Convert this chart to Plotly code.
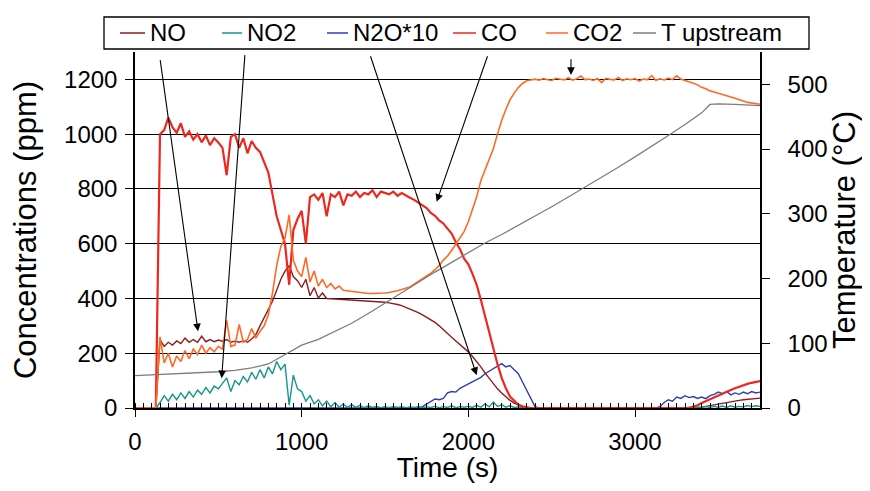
import plotly.graph_objects as go

# time base of the gas analyser, one sample every 25 s
time_s = list(range(0, 3751, 25))

no_ppm = [
    0, 0, 0, 0, 0, 0, 250, 225, 240, 230,
    245, 235, 255, 240, 250, 240, 262, 242, 250, 242,
    248, 244, 250, 240, 244, 240, 246, 240, 252, 268,
    300, 330, 360, 390, 430, 470, 500, 520, 480, 465,
    440, 470, 410, 440, 402, 420, 400, 400, 398, 397,
    396, 395, 394, 394, 393, 392, 392, 391, 390, 388,
    386, 384, 382, 378, 374, 368, 362, 355, 348, 340,
    332, 322, 313, 300, 285, 272, 258, 245, 232, 218,
    205, 188, 170, 150, 128, 108, 89, 70, 55, 40,
    28, 18, 11, 5, 0, 0, 0, 0, 0, 0,
    0, 0, 0, 0, 0, 0, 0, 0, 0, 0,
    0, 0, 0, 0, 0, 0, 0, 0, 0, 0,
    0, 0, 0, 0, 0, 0, 0, 0, 0, 0,
    0, 0, 0, 0, 0, 0, 3, 6, 9, 12,
    15, 18, 21, 24, 26, 28, 30, 32, 34, 35,
    36,
]

no2_ppm = [
    0, 0, 0, 0, 0, 0, 20, 45, 25, 50,
    30, 55, 35, 60, 40, 65, 50, 75, 55, 80,
    70, 90, 110, 60, 100, 85, 115, 95, 130, 105,
    140, 110, 150, 125, 170, 140, 160, 10, 120, 70,
    60, 25, 45, 15, 30, 8, 25, 5, 20, 3,
    15, 2, 12, 2, 10, 1, 8, 2, 6, 1,
    5, 1, 6, 2, 5, 1, 4, 2, 5, 1,
    4, 2, 6, 1, 5, 2, 8, 1, 5, 3,
    6, 2, 10, 3, 15, 4, 22, 6, 12, 3,
    8, 2, 4, 1, 2, 0, 1, 0, 1, 0,
    1, 0, 1, 0, 2, 0, 1, 0, 1, 0,
    0, 1, 0, 1, 0, 0, 1, 0, 1, 0,
    0, 1, 0, 2, 0, 1, 0, 1, 0, 1,
    0, 2, 0, 3, 1, 4, 2, 5, 2, 6,
    3, 7, 2, 8, 3, 6, 4, 9, 5, 8,
    6,
]

n2o_x10 = [
    0, 0, 0, 0, 0, 0, 0, 0, 0, 0,
    0, 0, 0, 0, 0, 0, 0, 0, 0, 0,
    0, 0, 0, 0, 0, 0, 0, 0, 0, 0,
    0, 0, 0, 0, 0, 0, 0, 0, 0, 0,
    0, 0, 0, 0, 0, 0, 0, 0, 0, 0,
    0, 0, 0, 0, 0, 0, 0, 0, 0, 0,
    0, 0, 0, 0, 0, 0, 0, 2, 0, 5,
    15, 25, 33, 30, 35, 55, 60, 58, 72, 80,
    88, 95, 105, 112, 125, 135, 145, 155, 162, 150,
    155, 140, 125, 95, 65, 35, 5, 0, 0, 0,
    0, 0, 0, 0, 0, 0, 0, 0, 0, 0,
    0, 0, 0, 0, 0, 0, 0, 0, 0, 0,
    0, 0, 0, 0, 0, 0, 5, 20, 30, 25,
    40, 35, 45, 38, 42, 35, 40, 34, 45, 50,
    58, 52, 60, 48, 55, 50, 58, 52, 60, 55,
    58,
]

co_ppm = [
    0, 0, 0, 0, 0, 0, 1000, 1015, 1060, 1025,
    1005, 1040, 990, 1010, 980, 1000, 970, 995, 960, 985,
    970, 950, 850, 990, 1000, 950, 985, 930, 975, 950,
    935, 895, 860, 780, 700, 650, 600, 450, 650, 690,
    720, 600, 770, 780, 760, 785, 700, 780, 770, 790,
    740, 780, 775, 790, 770, 785, 780, 795, 770, 790,
    785, 780, 790, 775, 785, 775, 768, 760, 750, 740,
    730, 712, 702, 685, 674, 655, 637, 605, 580, 545,
    525, 490, 450, 395, 335, 270, 211, 160, 110, 72,
    42, 25, 12, 6, 3, 0, 0, 0, 0, 0,
    0, 0, 0, 0, 0, 0, 0, 0, 0, 0,
    0, 0, 0, 0, 0, 0, 0, 0, 0, 0,
    0, 0, 0, 0, 0, 0, 0, 0, 0, 0,
    0, 0, 0, 0, 5, 10, 18, 25, 33, 40,
    45, 52, 60, 66, 72, 78, 84, 88, 92, 96,
    98,
]

co2_ppm = [
    0, 0, 0, 0, 0, 0, 260, 165, 200, 150,
    190, 170, 210, 180, 215, 195, 230, 200, 220, 205,
    225, 215, 320, 225, 230, 305, 240, 250, 290, 255,
    280, 300, 340, 420, 520, 590, 620, 705, 540, 500,
    480, 550, 460, 500, 445, 470, 440, 455, 435, 445,
    430, 428, 425, 422, 420, 419, 418, 418, 418, 418,
    420, 422, 424, 428, 433, 438, 442, 452, 462, 472,
    480, 492, 505, 520, 540, 555, 575, 598, 620, 645,
    680, 725, 771, 830, 870, 910, 947, 1000, 1050, 1090,
    1125, 1150, 1170, 1185, 1195, 1198, 1201, 1197, 1203, 1199,
    1196, 1204, 1200, 1198, 1206, 1197, 1202, 1212, 1199, 1201,
    1196, 1203, 1188, 1204, 1200, 1198, 1207, 1196, 1202, 1199,
    1203, 1194, 1201, 1199, 1214, 1197, 1202, 1198, 1205, 1199,
    1213, 1201, 1196, 1192, 1186, 1180, 1171, 1166, 1158, 1154,
    1150, 1144, 1141, 1136, 1131, 1125, 1121, 1116, 1113, 1110,
    1109,
]

# upstream thermocouple, right axis
time_temp = [0, 100, 200, 300, 400, 500, 600, 700, 800, 900, 1000, 1100, 1200,
             1300, 1400, 1500, 1600, 1700, 1800, 1900, 2000, 2100, 2200, 2300,
             2400, 2500, 2600, 2700, 2800, 2900, 3000, 3100, 3200, 3300, 3400,
             3450, 3500, 3600, 3700, 3750]
t_upstream = [50, 51, 53, 54, 55, 56, 58, 62, 68, 82, 97, 106, 118,
              131, 146, 162, 178, 195, 210, 225, 240, 255, 268, 282,
              296, 311, 326, 341, 356, 372, 388, 404, 421, 438, 456,
              469, 470, 469, 468, 467]

# arrows: (tail time, tail ppm, head time, head ppm)
arrows = [
    (150, 1276, 378, 280),
    (660, 1294, 520, 109),
    (1410, 1290, 2050, 120),
    (2118, 1290, 1810, 753),
    (2616, 1279, 2616, 1216),
]

legend_names = ['NO', 'NO2', 'N2O*10', 'CO', 'CO2', 'T upstream']
colors = {'NO': 'rgb(140,28,28)', 'NO2': 'rgb(20,150,138)', 'N2O*10': 'rgb(45,60,185)',
          'CO': 'rgb(236,40,30)', 'CO2': 'rgb(255,105,35)', 'T upstream': 'rgb(125,125,125)'}

FONT = 'Liberation Sans, Arial, sans-serif'

# plot area as it should land on screen (page body adds an 8 px margin)
PAD = 8
L, R, T, B = 135, 760, 52, 408
W, H = 870 - 2 * PAD, 491 - 2 * PAD


def px_x(p):
    return (p - L) / (R - L)


def px_y(p):
    return (B - p) / (B - T)


fig = go.Figure()
fig.add_trace(go.Scatter(x=time_s, y=n2o_x10, mode='lines', name='N2O*10',
                         line=dict(color=colors['N2O*10'], width=1.4)))
fig.add_trace(go.Scatter(x=time_s, y=no_ppm, mode='lines', name='NO',
                         line=dict(color=colors['NO'], width=1.4)))
fig.add_trace(go.Scatter(x=time_s, y=no2_ppm, mode='lines', name='NO2',
                         line=dict(color=colors['NO2'], width=1.4)))
fig.add_trace(go.Scatter(x=time_s, y=co_ppm, mode='lines', name='CO',
                         line=dict(color=colors['CO'], width=2.2)))
fig.add_trace(go.Scatter(x=time_s, y=co2_ppm, mode='lines', name='CO2',
                         line=dict(color=colors['CO2'], width=1.6)))
fig.add_trace(go.Scatter(x=time_temp, y=t_upstream, mode='lines', name='T upstream',
                         yaxis='y2', line=dict(color=colors['T upstream'], width=1.3)))

# legend drawn by hand so that the entries sit where they do in the paper
shapes = [dict(type='rect', xref='paper', yref='paper',
               x0=px_x(104), x1=px_x(809), y0=px_y(49), y1=px_y(17),
               line=dict(color='black', width=1.3), fillcolor='white')]
annotations = []
legend_x = [(120, 145, 148), (222, 242, 245), (327, 348, 351),
            (453, 476, 479), (546, 568, 571), (633, 656, 659)]
for name, (x0, x1, xt) in zip(legend_names, legend_x):
    shapes.append(dict(type='line', xref='paper', yref='paper',
                       x0=px_x(x0), x1=px_x(x1), y0=px_y(33), y1=px_y(33),
                       line=dict(color=colors[name], width=1.5)))
    annotations.append(dict(text=name, xref='paper', yref='paper',
                            x=px_x(xt), y=px_y(33), xanchor='left', yanchor='middle',
                            showarrow=False, font=dict(size=24, family=FONT, color='black')))

for ax, ay, hx, hy in arrows:
    annotations.append(dict(x=hx, y=hy, ax=ax, ay=ay, xref='x', yref='y',
                            axref='x', ayref='y', text='', showarrow=True,
                            arrowhead=2, arrowsize=1.4, arrowwidth=1.1,
                            arrowcolor='black', standoff=0))

fig.update_layout(
    width=W, height=H,
    margin=dict(l=L - PAD, r=W - (R - PAD), t=T - PAD, b=H - (B - PAD)),
    plot_bgcolor='white', paper_bgcolor='white',
    showlegend=False,
    font=dict(family=FONT, size=24, color='black'),
    shapes=shapes, annotations=annotations,
    xaxis=dict(range=[0, 3750], tickvals=[0, 1000, 2000, 3000], automargin=False,
               ticks='outside', ticklen=7, tickcolor='black', tickwidth=1.2,
               minor=dict(ticks='inside', dtick=50, ticklen=5, tickcolor='black',
                          tickwidth=1, showgrid=False),
               showline=True, linecolor='black', linewidth=1.5,
               showgrid=False, zeroline=False, ticklabelstandoff=4,
               title=dict(text='Time (s)', font=dict(size=28), standoff=11)),
    yaxis=dict(range=[0, 1300], tickvals=[0, 200, 400, 600, 800, 1000, 1200],
               automargin=False,
               ticks='outside', ticklen=8, tickcolor='black', tickwidth=1.2,
               showline=True, linecolor='black', linewidth=1.5,
               showgrid=True, gridcolor='black', gridwidth=1.2,
               zeroline=False, ticklabelstandoff=3,
               title=dict(text='Concentrations (ppm)', font=dict(size=31), standoff=20)),
    yaxis2=dict(range=[0, 550], tickvals=[0, 100, 200, 300, 400, 500],
                overlaying='y', side='right', anchor='x', automargin=False,
                ticks='outside', ticklen=8, tickcolor='black', tickwidth=1.2,
                showline=True, linecolor='black', linewidth=1.5,
                showgrid=False, zeroline=False, ticklabelstandoff=13,
                title=dict(text='Temperature (°C)', font=dict(size=31), standoff=6)),
    yaxis3=dict(range=[0, 550], tickvals=[0, 100, 200, 300, 400, 500],
                overlaying='y', side='right', anchor='x', automargin=False,
                ticks='inside', ticklen=8, tickcolor='black', tickwidth=1.2,
                showticklabels=False, showline=False, showgrid=False, zeroline=False),
)

fig.write_html("out.html")
